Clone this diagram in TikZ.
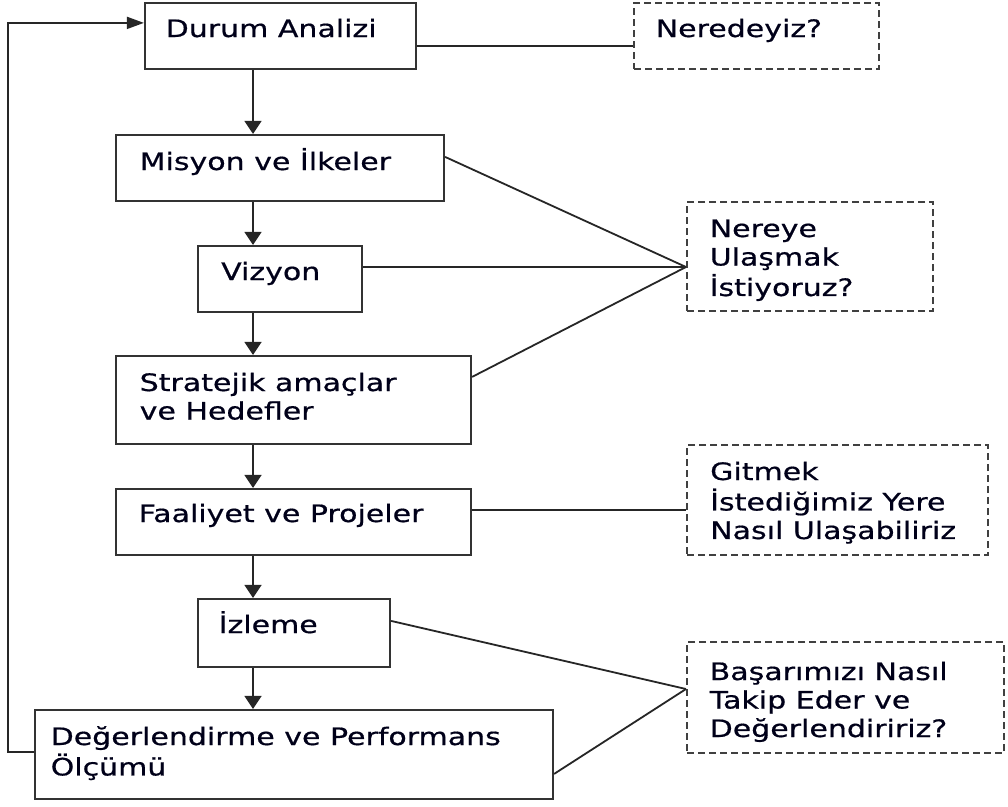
\documentclass[tikz,border=0pt]{standalone}
\usepackage{fontspec}
\setmainfont{DejaVu Sans}[FakeStretch=1.25,FakeBold=0.6]
\usetikzlibrary{arrows.meta,calc}
\newcommand{\lns}[1]{\begin{tabular}[t]{@{}l@{}}#1\end{tabular}}
\begin{document}
\begin{tikzpicture}[x=1pt,y=-1pt,
  box/.style={draw=black!80, line width=2.2pt, inner sep=0pt},
  qbox/.style={draw=black!75, line width=2pt, dash pattern=on 7pt off 4pt, inner sep=0pt},
  txt/.style={anchor=base west, inner sep=0pt, text=black!90!blue, font=\fontsize{24}{28.5}\selectfont},
  conn/.style={draw=black!85, line width=1.8pt},
  varrow/.style={conn, -{Triangle[width=17pt,length=13pt]}},
  harrow/.style={conn, -{Triangle[width=12pt,length=17pt]}},
]
\useasboundingbox (0,0) rectangle (1008,806);
\fill[white] (0,0) rectangle (1008,806);

% boxes
\node[box, minimum width=271pt, minimum height=66pt] (dur) at (280.5,36) {};
\node[qbox, minimum width=245pt, minimum height=66pt] (ner) at (756.5,36) {};
\node[box, minimum width=328pt, minimum height=66pt] (mis) at (280,168) {};
\node[box, minimum width=164pt, minimum height=66pt] (viz) at (280,279) {};
\node[box, minimum width=355pt, minimum height=88pt] (str) at (293.5,400) {};
\node[qbox, minimum width=246pt, minimum height=109pt] (nry) at (810,256.5) {};
\node[box, minimum width=355pt, minimum height=66pt] (faa) at (293.5,522) {};
\node[qbox, minimum width=301pt, minimum height=110pt] (git) at (837.5,500) {};
\node[box, minimum width=192pt, minimum height=68pt] (izl) at (294,633) {};
\node[box, minimum width=518pt, minimum height=89pt] (deg) at (294,754.5) {};
\node[qbox, minimum width=317pt, minimum height=111pt] (bas) at (845.5,697.5) {};

% texts
\node[txt] (durt) at (165.5,37) {Durum Analizi};
\node[txt] (nert) at (655.5,37) {Neredeyiz?};
\node[txt] (mist) at (139.5,170) {Misyon ve İlkeler};
\node[txt] (vizt) at (221,280) {Vizyon};
\node[txt] (strt) at (139.5,391) {\lns{Stratejik amaçlar\\ve Hedefler}};
\node[txt] (nryt) at (709.5,237) {\lns{Nereye\\Ulaşmak\\İstiyoruz?}};
\node[txt] (faat) at (138.5,522) {Faaliyet ve Projeler};
\node[txt] (gitt) at (710,480) {\lns{Gitmek\\İstediğimiz Yere\\Nasıl Ulaşabiliriz}};
\node[txt] (izlt) at (218.5,633) {İzleme};
\node[txt] (degt) at (50.5,745) {\lns{Değerlendirme ve Performans\\Ölçümü}};
\node[txt] (bast) at (709.5,680) {\lns{Başarımızı Nasıl\\Takip Eder ve\\Değerlendiririz?}};

% main flow arrows
\coordinate (ax) at (253,0);
\draw[varrow] (dur.south -| ax) -- (mis.north -| ax);
\draw[varrow] (mis.south -| ax) -- (viz.north -| ax);
\draw[varrow] (viz.south -| ax) -- (str.north -| ax);
\draw[varrow] (str.south -| ax) -- (faa.north -| ax);
\draw[varrow] (faa.south -| ax) -- (izl.north -| ax);
\draw[varrow] (izl.south -| ax) -- (deg.north -| ax);

% connectors to question boxes
\coordinate (d1) at ($(dur.north east)+(0,44)$);
\draw[conn] (d1) -- (d1 -| ner.west);

\coordinate (n1) at ($(nry.west)+(0,10.5)$);
\coordinate (m1) at ($(mis.north east)+(0,23)$);
\coordinate (s1) at ($(str.north east)+(0,22)$);
\draw[conn] (m1) -- (n1);
\draw[conn] (viz.east |- n1) -- (n1);
\draw[conn] (s1) -- (n1);

\coordinate (f1) at ($(faa.north east)+(0,22)$);
\draw[conn] (f1) -- (f1 -| git.west);

\coordinate (b1) at ($(bas.west)+(0,-8.5)$);
\coordinate (i1) at ($(izl.north east)+(0,23)$);
\coordinate (e1) at ($(deg.north east)+(0,65)$);
\draw[conn] (i1) -- (b1);
\draw[conn] (e1) -- (b1);

% feedback loop
\coordinate (lx) at (8,0);
\coordinate (d2) at ($(deg.north west)+(0,43)$);
\coordinate (d3) at ($(dur.north west)+(0,21)$);
\draw[harrow] (d2) -- (d2 -| lx) -- (d3 -| lx) -- (d3);
\end{tikzpicture}
\end{document}
